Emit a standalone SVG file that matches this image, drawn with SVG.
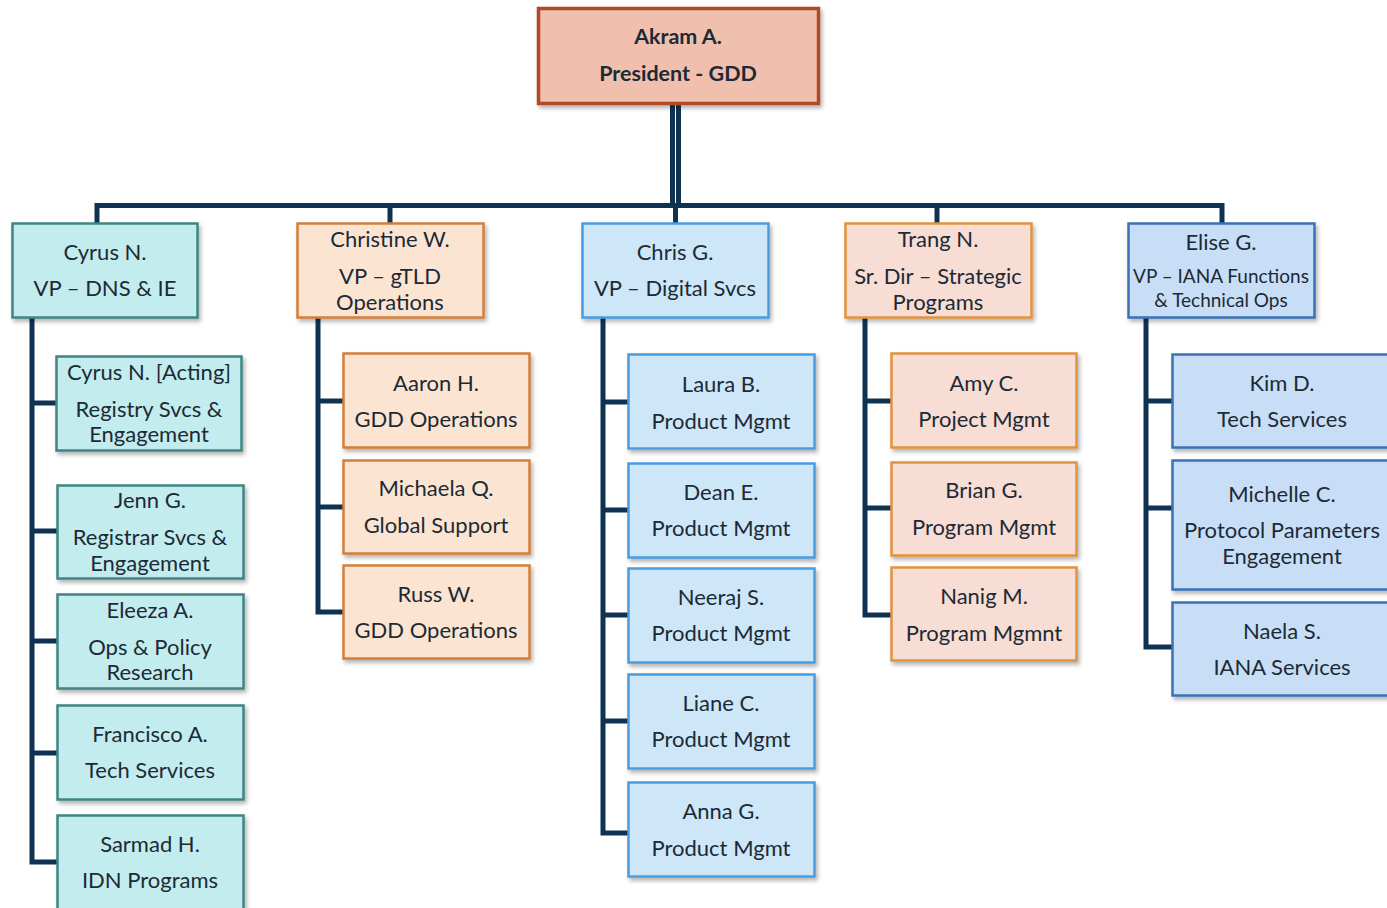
<svg xmlns="http://www.w3.org/2000/svg" width="1387" height="908" viewBox="0 0 1387 908">
<defs>
<filter id="sh" x="-10%" y="-10%" width="130%" height="140%">
<feDropShadow dx="2" dy="3" stdDeviation="2" flood-color="#000" flood-opacity="0.3"/>
</filter>
</defs>
<style>
text{font-family:Lato,"Open Sans","Liberation Sans",sans-serif;font-size:22px;fill:#1c2a35;text-anchor:middle;dominant-baseline:central;transform:translateY(-1px)}
.b{font-weight:bold;font-size:21.5px}
.s{font-size:19px}
.box{filter:url(#sh);stroke-width:2.5}
.pres{fill:#f0bfae;stroke:#b04a27;stroke-width:3.5}
.teal{fill:#c3ecee;stroke:#3f8584}
.tan{fill:#fbe5d2;stroke:#d27f3a}
.blu{fill:#cde6f8;stroke:#4a9ce0}
.pch{fill:#f7ddd4;stroke:#e0933f}
.blu2{fill:#c8def6;stroke:#3a72b5}
.ln{fill:none;stroke:#0e3352;stroke-width:5}
</style>
<g id="connectors">
<path class="ln" d="M672.5 104 V206"/>
<path class="ln" d="M678.5 104 V206"/>
<path class="ln" d="M97 223 V205.5 H1222 V223"/>
<path class="ln" d="M390 205.5 V223"/>
<path class="ln" d="M675.5 205.5 V223"/>
<path class="ln" d="M937 205.5 V223"/>
<path class="ln" d="M32 318 V862 H57"/>
<path class="ln" d="M32 403 H56 M32 531 H57 M32 641 H57 M32 753 H57"/>
<path class="ln" d="M318 318 V612 H343"/>
<path class="ln" d="M318 401 H343 M318 507 H343"/>
<path class="ln" d="M603 318 V833 H628"/>
<path class="ln" d="M603 402 H628 M603 510 H628 M603 615 H628 M603 721 H628"/>
<path class="ln" d="M865 318 V615 H891"/>
<path class="ln" d="M865 401 H891 M865 508 H891"/>
<path class="ln" d="M1146 318 V647 H1172"/>
<path class="ln" d="M1146 401 H1172 M1146 508 H1172"/>
</g>
<g id="president"><rect class="box pres" x="538.5" y="8.5" width="280" height="95"/><text class="b" x="678" y="37">Akram A.</text><text class="b" x="678" y="74">President - GDD</text></g>

<g id="cyrus"><rect class="box teal" x="12.5" y="223.5" width="185" height="94"/><text x="105" y="252">Cyrus N.</text><text x="105" y="288">VP – DNS &amp; IE</text></g>
<g id="christine"><rect class="box tan" x="297.5" y="223.5" width="186" height="94"/><text x="390" y="239">Christine W.</text><text x="390" y="276">VP – gTLD</text><text x="390" y="302">Operations</text></g>
<g id="chris"><rect class="box blu" x="582.5" y="223.5" width="186" height="94"/><text x="675" y="252">Chris G.</text><text x="675" y="288">VP – Digital Svcs</text></g>
<g id="trang"><rect class="box pch" x="845.5" y="223.5" width="186" height="94"/><text x="938" y="239">Trang N.</text><text x="938" y="276">Sr. Dir – Strategic</text><text x="938" y="302">Programs</text></g>
<g id="elise"><rect class="box blu2" x="1128.5" y="223.5" width="186" height="94"/><text x="1221" y="242">Elise G.</text><text class="s" x="1221" y="276">VP – IANA Functions</text><text class="s" x="1221" y="300">&amp; Technical Ops</text></g>

<g id="cyrus-acting"><rect class="box teal" x="56.5" y="356.5" width="185" height="94"/><text x="149" y="372">Cyrus N. [Acting]</text><text x="149" y="409">Registry Svcs &amp;</text><text x="149" y="434">Engagement</text></g>
<g id="jenn"><rect class="box teal" x="57.5" y="485.5" width="186" height="93"/><text x="150" y="500">Jenn G.</text><text x="150" y="537">Registrar Svcs &amp;</text><text x="150" y="563">Engagement</text></g>
<g id="eleeza"><rect class="box teal" x="57.5" y="594.5" width="186" height="94"/><text x="150" y="610">Eleeza A.</text><text x="150" y="647">Ops &amp; Policy</text><text x="150" y="672">Research</text></g>
<g id="francisco"><rect class="box teal" x="57.5" y="705.5" width="186" height="94"/><text x="150" y="734">Francisco A.</text><text x="150" y="770">Tech Services</text></g>
<g id="sarmad"><rect class="box teal" x="57.5" y="815.5" width="186" height="100"/><text x="150" y="844">Sarmad H.</text><text x="150" y="880">IDN Programs</text></g>

<g id="aaron"><rect class="box tan" x="343.5" y="353.5" width="186" height="94"/><text x="436" y="383">Aaron H.</text><text x="436" y="419">GDD Operations</text></g>
<g id="michaela"><rect class="box tan" x="343.5" y="460.5" width="186" height="93"/><text x="436" y="488">Michaela Q.</text><text x="436" y="525">Global Support</text></g>
<g id="russ"><rect class="box tan" x="343.5" y="565.5" width="186" height="93"/><text x="436" y="594">Russ W.</text><text x="436" y="630">GDD Operations</text></g>

<g id="laura"><rect class="box blu" x="628.5" y="354.5" width="186" height="94"/><text x="721" y="384">Laura B.</text><text x="721" y="421">Product Mgmt</text></g>
<g id="dean"><rect class="box blu" x="628.5" y="463.5" width="186" height="94"/><text x="721" y="492">Dean E.</text><text x="721" y="528">Product Mgmt</text></g>
<g id="neeraj"><rect class="box blu" x="628.5" y="568.5" width="186" height="94"/><text x="721" y="597">Neeraj S.</text><text x="721" y="633">Product Mgmt</text></g>
<g id="liane"><rect class="box blu" x="628.5" y="674.5" width="186" height="94"/><text x="721" y="703">Liane C.</text><text x="721" y="739">Product Mgmt</text></g>
<g id="anna"><rect class="box blu" x="628.5" y="782.5" width="186" height="94"/><text x="721" y="811">Anna G.</text><text x="721" y="848">Product Mgmt</text></g>

<g id="amy"><rect class="box pch" x="891.5" y="353.5" width="185" height="94"/><text x="984" y="383">Amy C.</text><text x="984" y="419">Project Mgmt</text></g>
<g id="brian"><rect class="box pch" x="891.5" y="462.5" width="185" height="93"/><text x="984" y="490">Brian G.</text><text x="984" y="527">Program Mgmt</text></g>
<g id="nanig"><rect class="box pch" x="891.5" y="567.5" width="185" height="93"/><text x="984" y="596">Nanig M.</text><text x="984" y="633">Program Mgmnt</text></g>

<g id="kim"><rect class="box blu2" x="1172.5" y="354.5" width="230" height="93"/><text x="1282" y="383">Kim D.</text><text x="1282" y="419">Tech Services</text></g>
<g id="michelle"><rect class="box blu2" x="1172.5" y="460.5" width="230" height="129"/><text x="1282" y="494">Michelle C.</text><text x="1282" y="530">Protocol Parameters</text><text x="1282" y="556">Engagement</text></g>
<g id="naela"><rect class="box blu2" x="1172.5" y="602.5" width="230" height="93"/><text x="1282" y="631">Naela S.</text><text x="1282" y="667">IANA Services</text></g>
</svg>
